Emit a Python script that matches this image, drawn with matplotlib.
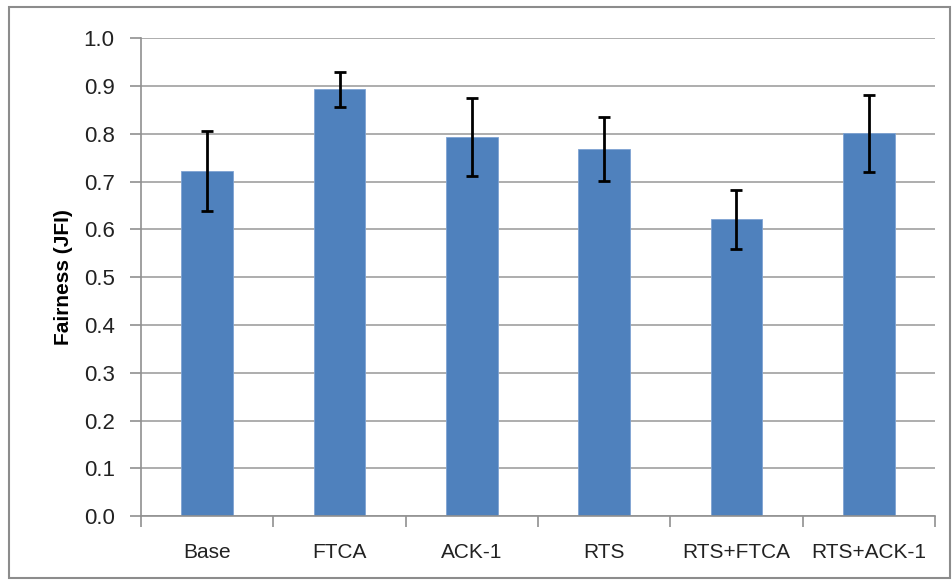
"""Fairness (JFI) per scheme, bar chart with error bars."""

import matplotlib

matplotlib.use("Agg")
import matplotlib.pyplot as plt  # noqa: E402
import numpy as np  # noqa: E402
from matplotlib.patches import Rectangle  # noqa: E402

schemes = ["Base", "FTCA", "ACK-1", "RTS", "RTS+FTCA", "RTS+ACK-1"]
fairness = [0.722, 0.893, 0.793, 0.768, 0.621, 0.801]
fairness_err = [0.083, 0.037, 0.082, 0.067, 0.061, 0.081]
y_ticks = [0.0, 0.1, 0.2, 0.3, 0.4, 0.5, 0.6, 0.7, 0.8, 0.9, 1.0]

plt.rcParams["font.family"] = ["Liberation Sans", "DejaVu Sans"]

fig = plt.figure(figsize=(9.53, 5.8), dpi=100)
ax = fig.add_axes([0.148, 0.110, 0.833, 0.824])

x = np.arange(len(schemes))
ax.bar(x, fairness, width=0.39, color="#4F81BD", edgecolor="#7FA3D3", lw=0.6, zorder=2)
ax.errorbar(x, fairness, yerr=fairness_err, fmt="none", ecolor="black",
            elinewidth=2, capsize=4.5, capthick=2, zorder=3)

ax.set_xlim(-0.5, len(schemes) - 0.5)
ax.set_ylim(0, 1.0)
ax.set_yticks(y_ticks)
ax.set_yticklabels([f"{v:.1f}" for v in y_ticks], fontsize=16, color="#222222")
ax.yaxis.grid(True, color="#A0A0A0", lw=1.2, zorder=0)
ax.set_axisbelow(True)

ax.set_xticks(x)
ax.set_xticklabels(schemes, fontsize=15, color="#222222")
ax.set_xticks(np.arange(-0.5, len(schemes)), minor=True)
ax.tick_params(axis="x", which="major", length=0, pad=19)
ax.tick_params(axis="x", which="minor", length=8, color="#909090", width=1.2)
ax.tick_params(axis="y", length=8, color="#909090", width=1.2, pad=11)

for side in ("top", "right"):
    ax.spines[side].set_visible(False)
for side in ("left", "bottom"):
    ax.spines[side].set_color("#909090")
    ax.spines[side].set_linewidth(1.2)

ax.set_ylabel("Fairness (JFI)", fontsize=15, fontweight="bold", labelpad=8)

fig.patches.append(Rectangle((9 / 953, 2 / 580), 941 / 953, 571 / 580,
                             transform=fig.transFigure, fill=False,
                             edgecolor="#8C8C8C", lw=1.5))

fig.savefig("out.png", dpi=100)
